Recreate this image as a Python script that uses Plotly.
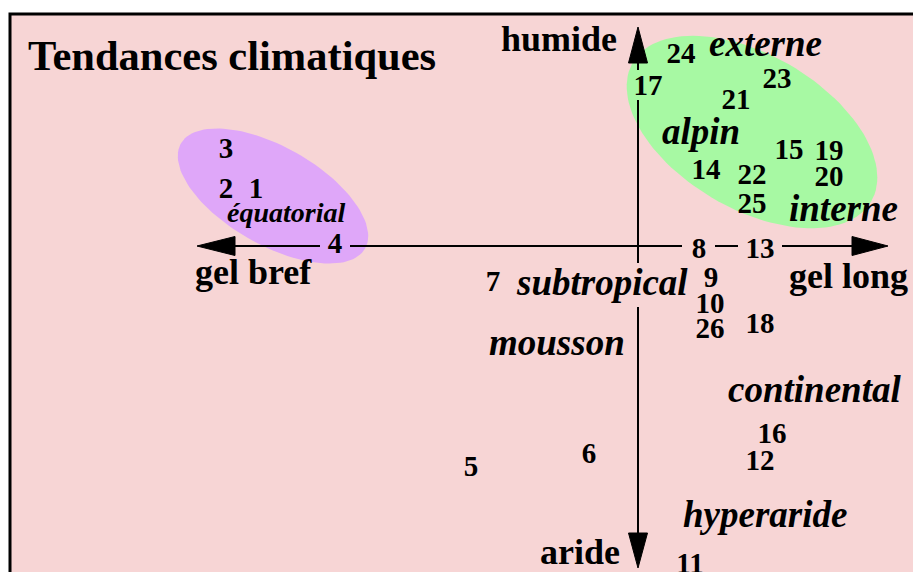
import numpy as np
import plotly.graph_objects as go

# Diagram units: offset from the crossing of the two arrows
# x -> duration of frost (gel), y -> humidity (up = humide)

station_ids = [str(i) for i in range(1, 27)]
station_gel = [-382, -412, -412, -303, -167, -49, -145, 61, 73, 72, 52, 122, 122,
               68, 151, 134, 10, 122, 191, 191, 98, 114, 139, 43, 114, 72]
station_humid = [55, 55, 95, 0, -223, -210, -38, -5, -34, -60, -320, -217, -5,
                 74, 94, -190, 158, -80, 93, 67, 144, 69, 165, 190, 40, -85]

climate_names = ['équatorial', 'externe', 'alpin', 'interne', 'subtropical',
                 'mousson', 'continental', 'hyperaride']
climate_gel = [-352, 127, 63, 205, -36, -81, 176, 127]
climate_humid = [34, 203, 115, 38, -36, -96, -143, -268]
climate_size = [28, 37, 37, 37, 37, 37, 37, 37]

axis_names = ['humide', 'gel bref', 'gel long', 'aride']
axis_gel = [-79, -385, 210, -58]
axis_humid = [207, -26, -30, -306]

# groups drawn as tilted ellipses: centre, semi-axes, tilt (degrees)
group_centre = [(-365, 50), (114, 114)]
group_axes = [(106, 49), (138, 77)]
group_tilt = [-29.7, -30.3]
group_colour = ['#DFA7F9', '#A7F9A3']

SERIF = 'Liberation Serif, Times New Roman, serif'

fig = go.Figure()

# frame
fig.add_shape(type='rect', xref='paper', yref='paper',
              x0=10 / 913, x1=1.05, y0=-0.05, y1=1 - 14 / 572,
              fillcolor='#F7D5D5', line=dict(color='black', width=3), layer='below')

t = np.linspace(0, 2 * np.pi, 120)
for (cx, cy), (a, b), ang, col in zip(group_centre, group_axes, group_tilt, group_colour):
    r = np.radians(ang)
    ex = cx + a * np.cos(t) * np.cos(r) - b * np.sin(t) * np.sin(r)
    ey = cy + a * np.cos(t) * np.sin(r) + b * np.sin(t) * np.cos(r)
    fig.add_trace(go.Scatter(x=ex, y=ey, mode='lines', fill='toself',
                             fillcolor=col, line=dict(width=0), hoverinfo='skip'))

# arrows (broken around the labels that sit on them)
hx = [-403, -318, None, -288, 44, None, 77, 100, None, 144, 214]
hy = [0 if v is not None else None for v in hx]
vy = [183, 176, None, 146, -17, None, -61, -287]
vx = [0 if v is not None else None for v in vy]
fig.add_trace(go.Scatter(x=hx, y=hy, mode='lines', line=dict(color='black', width=2),
                         hoverinfo='skip'))
fig.add_trace(go.Scatter(x=vx, y=vy, mode='lines', line=dict(color='black', width=2),
                         hoverinfo='skip'))

heads = [
    ([-441, -403, -403, -441], [0, 9.5, -9.5, 0]),
    ([250, 214, 214, 250], [0, 9.5, -9.5, 0]),
    ([0, -9.5, 9.5, 0], [219, 183, 183, 219]),
    ([0, -9.5, 9.5, 0], [-322, -287, -287, -322]),
]
for x, y in heads:
    fig.add_trace(go.Scatter(x=x, y=y, mode='lines', fill='toself', fillcolor='black',
                             line=dict(color='black', width=1), hoverinfo='skip'))

# numbered stations
fig.add_trace(go.Scatter(x=station_gel, y=station_humid, mode='text', text=station_ids,
                         textposition='middle center',
                         textfont=dict(family=SERIF, size=29, color='black', weight='bold'),
                         hoverinfo='skip'))

for name, x, y, s in zip(climate_names, climate_gel, climate_humid, climate_size):
    fig.add_annotation(x=x, y=y, text=f'<b><i>{name}</i></b>', showarrow=False,
                       xanchor='center', yanchor='middle',
                       font=dict(family=SERIF, size=s, color='black'))

for name, x, y in zip(axis_names, axis_gel, axis_humid):
    fig.add_annotation(x=x, y=y, text=f'<b>{name}</b>', showarrow=False,
                       xanchor='center', yanchor='middle',
                       font=dict(family=SERIF, size=36, color='black'))

fig.add_annotation(x=-406, y=191, text='<b>Tendances climatiques</b>', showarrow=False,
                   xanchor='center', yanchor='middle',
                   font=dict(family=SERIF, size=42.5, color='black'))

# crossing of the arrows sits at (638, 246) in the picture
fig.update_layout(
    width=913, height=572,
    margin=dict(l=0, r=0, t=0, b=0),
    paper_bgcolor='white', plot_bgcolor='rgba(0,0,0,0)',
    showlegend=False,
    xaxis=dict(range=[-638, 275], visible=False, fixedrange=True),
    yaxis=dict(range=[-326, 246], visible=False, fixedrange=True),
)

# drop the page's default body margin so the figure fills the window
fig.write_html('out.html', config={'displayModeBar': False},
               post_script="document.body.style.margin='0';document.body.style.overflow='hidden';")
